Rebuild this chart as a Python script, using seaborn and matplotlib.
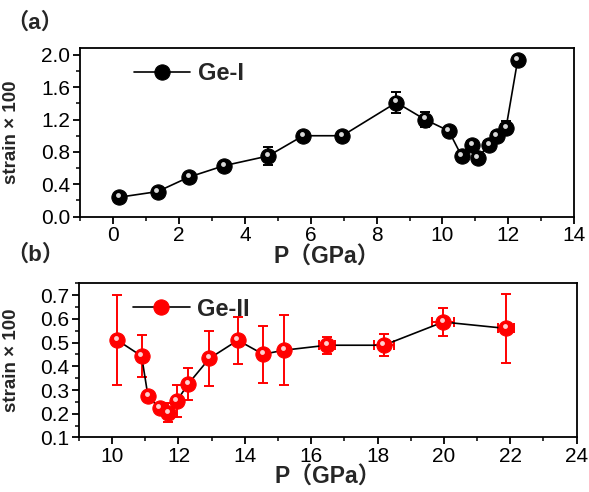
import numpy as np
import pandas as pd
import matplotlib
matplotlib.use("Agg")
import matplotlib.pyplot as plt
import matplotlib.transforms as mtransforms
from matplotlib.ticker import MultipleLocator, FormatStrFormatter
import seaborn as sns

# Ge-I (panel a)
p_ge1 = [0.18, 1.35, 2.31, 3.37, 4.71, 5.77, 6.96, 8.60, 9.47, 10.19, 10.58, 10.90, 11.07, 11.42, 11.65, 11.93, 12.28]
s_ge1 = [0.24, 0.31, 0.49, 0.63, 0.75, 1.00, 1.00, 1.41, 1.20, 1.06, 0.75, 0.88, 0.73, 0.89, 1.00, 1.10, 1.93]
e_ge1 = [0.03, 0.03, 0.03, 0.03, 0.11, 0.03, 0.03, 0.13, 0.09, 0.03, 0.03, 0.03, 0.03, 0.03, 0.03, 0.08, 0.03]
xe_ge1 = [0, 0, 0, 0, 0, 0, 0, 0, 0, 0, 0.1, 0.15, 0.15, 0.15, 0.15, 0.15, 0]

# Ge-II (panel b)
p_ge2 = [10.16, 10.89, 11.08, 11.43, 11.69, 11.95, 12.29, 12.93, 13.79, 14.55, 15.18, 16.48, 18.19, 19.98, 21.87]
s_ge2 = [0.51, 0.443, 0.275, 0.222, 0.204, 0.254, 0.325, 0.433, 0.51, 0.451, 0.468, 0.489, 0.489, 0.587, 0.56]
e_ge2 = [0.19, 0.09, 0.01, 0.01, 0.04, 0.068, 0.068, 0.115, 0.10, 0.12, 0.147, 0.035, 0.047, 0.058, 0.145]
xe_ge2 = [0, 0, 0, 0, 0, 0, 0, 0, 0, 0, 0, 0.25, 0.3, 0.33, 0.24]

sns.set_style("ticks")
plt.rcParams['font.family'] = ['Liberation Sans', 'Noto Sans CJK SC', 'DejaVu Sans']
plt.rcParams['axes.linewidth'] = 1.3
plt.rcParams['axes.edgecolor'] = 'black'
plt.rcParams['xtick.color'] = 'black'
plt.rcParams['ytick.color'] = 'black'

fig = plt.figure(figsize=(5.89, 4.92), dpi=100)
ax1 = fig.add_axes([0.136, 0.5596, 0.839, 0.3422])
ax2 = fig.add_axes([0.134, 0.111, 0.845, 0.313])


def panneau(ax, p, s, e, xe, couleur, reflet, nom):
    df = pd.DataFrame({"P": p, "strain": s})
    ax.errorbar(p, s, yerr=e, xerr=xe, fmt="none", ecolor=couleur,
                elinewidth=1.4, capsize=3.5, capthick=1.4, zorder=2)
    sns.lineplot(data=df, x="P", y="strain", ax=ax, color="black", lw=1.2,
                 marker="o", markersize=11, markerfacecolor=couleur,
                 markeredgecolor=couleur, sort=False, label=nom, zorder=3)
    # petit reflet pour faire des billes
    decal = mtransforms.offset_copy(ax.transData, fig=fig, x=-1.0, y=1.5, units="points")
    ax.plot(p, s, ls="none", marker="o", markersize=3.5, color=reflet,
            markeredgewidth=0, transform=decal, zorder=4)
    ax.legend(loc="upper left", frameon=False, handlelength=2.4, handletextpad=0.3,
              prop={"weight": "bold", "size": 17}, borderaxespad=0.2,
              bbox_to_anchor=(0.08, 1.0))
    ax.set_ylabel("strain \u00d7 100", fontsize=13.5, fontweight="bold")
    ax.set_xlabel("P\uff08GPa\uff09", fontsize=16.5, fontweight="bold", labelpad=0)
    for sp in ax.spines.values():
        sp.set_linewidth(1.3)


panneau(ax1, p_ge1, s_ge1, e_ge1, xe_ge1, "black", "#d8d8d8", "Ge-I")
ax1.set_xlim(-1, 14)
ax1.set_ylim(0, 2.08)
ax1.xaxis.set_major_locator(MultipleLocator(2))
ax1.xaxis.set_minor_locator(MultipleLocator(1))
ax1.yaxis.set_major_locator(MultipleLocator(0.4))
ax1.yaxis.set_minor_locator(MultipleLocator(0.2))
ax1.yaxis.set_major_formatter(FormatStrFormatter("%.1f"))
ax1.yaxis.set_label_coords(-0.122, 0.5)

panneau(ax2, p_ge2, s_ge2, e_ge2, xe_ge2, "red", "#ffd0d0", "Ge-II")
ax2.set_xlim(9, 24)
ax2.set_ylim(0.1, 0.75)
ax2.xaxis.set_major_locator(MultipleLocator(2))
ax2.xaxis.set_minor_locator(MultipleLocator(1))
ax2.yaxis.set_major_locator(MultipleLocator(0.1))
ax2.yaxis.set_minor_locator(MultipleLocator(0.05))
ax2.yaxis.set_major_formatter(FormatStrFormatter("%.1f"))
ax2.yaxis.set_label_coords(-0.119, 0.5)

for ax in (ax1, ax2):
    ax.tick_params(axis="both", which="major", direction="out", length=5, width=1.3,
                   labelsize=15, top=False, right=False, bottom=True, left=True, pad=2)
    ax.tick_params(axis="both", which="minor", direction="out", length=3, width=1.1,
                   top=False, right=False, bottom=True, left=True)

fig.text(0.01, 0.952, "\uff08a\uff09", fontsize=16, fontweight="bold", va="center")
fig.text(0.01, 0.482, "\uff08b\uff09", fontsize=16, fontweight="bold", va="center")

fig.savefig("out.png", dpi=100)
